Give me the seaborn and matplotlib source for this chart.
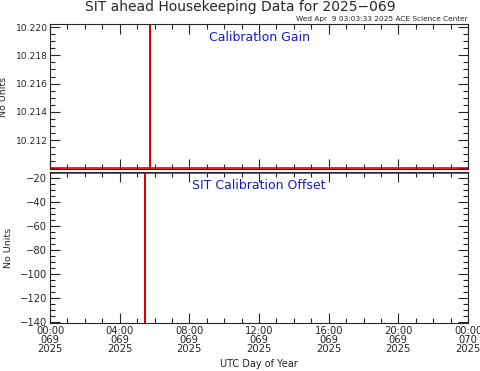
import pandas as pd
import seaborn as sns
import matplotlib
matplotlib.use("Agg")
import matplotlib.pyplot as plt
from matplotlib.ticker import MultipleLocator, FuncFormatter

## Data (hours of day 069, 2025)
gain_hours = [0.0, 5.74, 5.74, 5.75, 5.75, 24.0]
gain_values = [10.2100, 10.2100, 10.5, 10.5, 10.2100, 10.2100]
offset_hours = [0.0, 5.45, 5.45, 5.46, 5.46, 24.0]
offset_values = [-15.6, -15.6, -300.0, -300.0, -15.6, -15.6]

tick_hours = [0, 4, 8, 12, 16, 20, 24]
tick_labels = ["00:00\n069\n2025", "04:00\n069\n2025", "08:00\n069\n2025",
               "12:00\n069\n2025", "16:00\n069\n2025", "20:00\n069\n2025",
               "00:00\n070\n2025"]

gainDf = pd.DataFrame({"hour": gain_hours, "value": gain_values})
offsetDf = pd.DataFrame({"hour": offset_hours, "value": offset_values})

sns.set_style("ticks")
plt.rcParams['font.family'] = ['DejaVu Sans']

fig = plt.figure(figsize=(4.81, 3.71), dpi=100)
ax1 = fig.add_axes([0.104, 0.5445, 0.869, 0.3905])
ax2 = fig.add_axes([0.104, 0.129, 0.869, 0.4074])

red = "#e00000"
sns.lineplot(data=gainDf, x="hour", y="value", ax=ax1, color=red,
             estimator=None, sort=False, linewidth=1.2)
sns.lineplot(data=offsetDf, x="hour", y="value", ax=ax2, color=red,
             estimator=None, sort=False, linewidth=1.2)

ax1.set_ylim(10.20995, 10.22021)
ax2.set_ylim(-141, -15.1)
ax1.yaxis.set_major_locator(MultipleLocator(0.002))
ax1.yaxis.set_minor_locator(MultipleLocator(0.0005))
ax1.yaxis.set_major_formatter(FuncFormatter(lambda v, p: f"{v:.3f}" if v > 10.2115 else ""))
ax2.yaxis.set_major_locator(MultipleLocator(20))
ax2.yaxis.set_minor_locator(MultipleLocator(5))
ax2.yaxis.set_major_formatter(FuncFormatter(lambda v, p: f"{v:.0f}".replace("-", "\u2212")))

for ax in (ax1, ax2):
    ax.set_xlim(0, 24)
    ax.xaxis.set_major_locator(MultipleLocator(4))
    ax.xaxis.set_minor_locator(MultipleLocator(1))
    ax.tick_params(which="both", direction="in", top=True, right=True,
                   labelsize=7.2, width=0.8, pad=2)
    ax.tick_params(which="major", length=7)
    ax.tick_params(which="minor", length=3.5)
    ax.set_ylabel("No Units", fontsize=6.8)
    ax.set_xlabel("")
    for s in ax.spines.values():
        s.set_linewidth(0.8)

ax1.tick_params(axis="y", labelsize=6.6, pad=1.5)
ax1.set_xticklabels([])
ax2.set_xticks(tick_hours)
ax2.set_xticklabels(tick_labels, fontsize=7.2, linespacing=0.85)
ax1.yaxis.set_label_coords(-0.1, 0.5)
ax2.yaxis.set_label_coords(-0.088, 0.5)

ax1.text(0.5, 0.95, "Calibration Gain", transform=ax1.transAxes, ha="center",
         va="top", color="#1818c8", fontsize=9)
ax2.text(0.5, 0.955, "SIT Calibration Offset", transform=ax2.transAxes, ha="center",
         va="top", color="#1818c8", fontsize=9)

fig.suptitle("SIT ahead Housekeeping Data for 2025\u2212069", fontsize=10, y=1.0)
fig.text(0.973, 0.940, "Wed Apr  9 03:03:33 2025 ACE Science Center",
         ha="right", va="bottom", fontsize=5.3)
fig.text(0.5385, 0.005, "UTC Day of Year", ha="center", va="bottom", fontsize=7)

fig.savefig("out.png", dpi=100)
